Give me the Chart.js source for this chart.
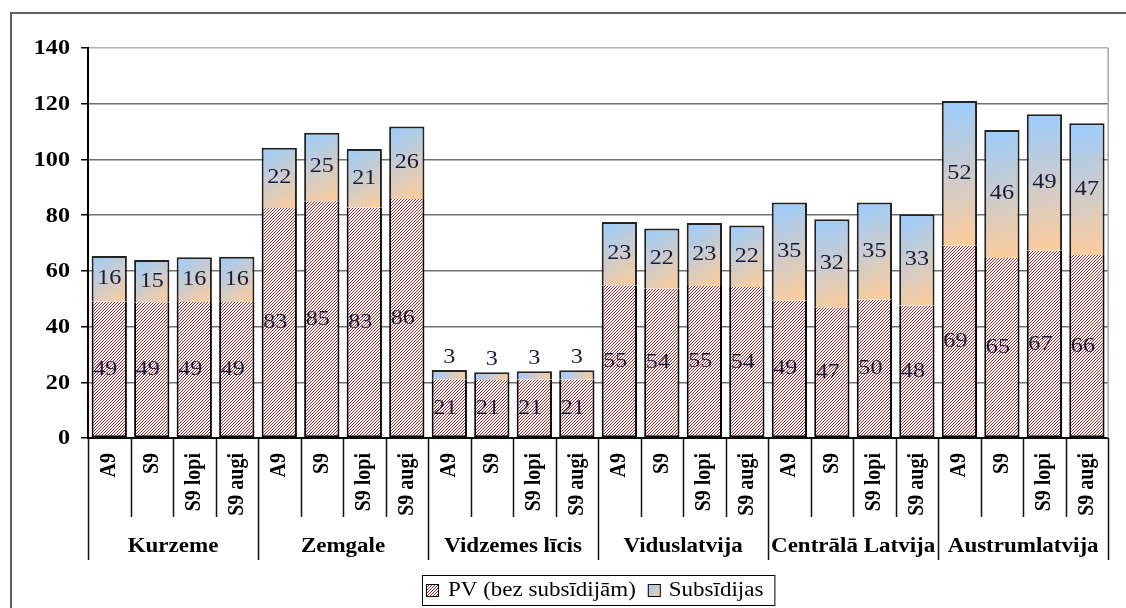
<!DOCTYPE html>
<html>
<head>
<meta charset="utf-8">
<script src="https://cdn.jsdelivr.net/npm/chart.js@4/dist/chart.umd.min.js"></script>
<style>
html, body { margin: 0; padding: 0; background: #fff; }
</style>
</head>
<body>
<canvas id="chart" width="1126" height="608"></canvas>
<script>
// ─── Data ────────────────────────────────────────
const regions   = ["Kurzeme", "Zemgale", "Vidzemes līcis", "Viduslatvija", "Centrālā Latvija", "Austrumlatvija"];
const scenarios = ["A9", "S9", "S9 lopi", "S9 augi"];
const seriesNames = ["PV (bez subsīdijām)", "Subsīdijas"];

// PV without subsidies, per region x scenario
const pvValues = [
    48.9, 48.7, 48.8, 48.8,
    82.6, 85.0, 82.7, 85.8,
    21.1, 20.8, 21.0, 21.0,
    54.8, 53.6, 54.6, 54.2,
    49.3, 46.9, 49.6, 47.6,
    69.0, 64.6, 67.2, 65.7
];
// subsidies stacked on top
const subsidyValues = [
    16.4, 15.2, 16.1, 16.3,
    21.6, 24.6, 21.0, 26.0,
    3.3, 2.8, 3.0, 3.3,
    22.7, 21.6, 22.6, 22.1,
    35.2, 31.6, 34.9, 32.7,
    52.0, 46.0, 49.0, 47.3
];

const yMax  = 140;
const yStep = 20;

const categories = regions.flatMap(() => scenarios);

// ─── Styles ──────────────────────────────────────
const SERIF = "'Liberation Serif', 'Times New Roman', serif";
const BAR_PCT = 0.83;
const STRETCH = 1.15;   // the source picture is a bit wide, so is its text

const canvas = document.getElementById("chart");
const ctx = canvas.getContext("2d");

function makeHatch() {
    const t = document.createElement("canvas");
    t.width = 3; t.height = 3;
    const g = t.getContext("2d");
    g.fillStyle = "#fff";
    g.fillRect(0, 0, 3, 3);
    g.strokeStyle = "#9c1414";
    g.lineWidth = 0.9;
    g.beginPath();
    g.moveTo(0, 3); g.lineTo(3, 0);
    g.moveTo(-1, 1); g.lineTo(1, -1);
    g.moveTo(2, 4); g.lineTo(4, 2);
    g.stroke();
    return ctx.createPattern(t, "repeat");
}
const hatch = makeHatch();

function blueToPeach(c, x0, y0, x1, y1) {
    const g = c.createLinearGradient(x0, y0, x1, y1);
    g.addColorStop(0, "#99ccff");
    g.addColorStop(1, "#ffcc99");
    return g;
}

function subsidyFill(context) {
    const chart = context.chart;
    const { chartArea, scales } = chart;
    if (!chartArea || context.type !== "data") return "#cccccc";
    const i = context.dataIndex;
    const cx = scales.x.getPixelForValue(i);
    const half = (scales.x.width / categories.length) * BAR_PCT / 2;
    const top = scales.y.getPixelForValue(pvValues[i] + subsidyValues[i]);
    const bottom = scales.y.getPixelForValue(pvValues[i]);
    return blueToPeach(chart.ctx, cx - half, top, cx + half, bottom);
}

function wideText(c, text, x, y, align) {
    c.save();
    c.translate(x, y);
    c.scale(STRETCH, 1);
    c.textAlign = align || "center";
    c.fillText(text, 0, 0);
    c.restore();
}

// ─── Plugins ─────────────────────────────────────
const framePlugin = {
    id: "frame",
    beforeDraw(chart) {
        const c = chart.ctx;
        c.save();
        c.fillStyle = "#fff";
        c.fillRect(0, 0, chart.width, chart.height);
        c.strokeStyle = "#606060";
        c.lineWidth = 2;
        c.strokeRect(11, 13, chart.width + 10, chart.height + 10);
        c.restore();
    },
    beforeDatasetsDraw(chart) {
        const c = chart.ctx, a = chart.chartArea;
        c.save();
        c.strokeStyle = "#a8a8a8";
        c.lineWidth = 1.5;
        c.beginPath();
        c.moveTo(a.right, a.top);
        c.lineTo(a.right, a.bottom);
        c.stroke();
        c.restore();
    }
};

const valueLabels = {
    id: "valueLabels",
    afterDatasetsDraw(chart) {
        const c = chart.ctx;
        c.save();
        c.font = `21px ${SERIF}`;
        c.fillStyle = "#1a1a3a";
        c.textBaseline = "middle";
        chart.data.datasets.forEach((ds, di) => {
            chart.getDatasetMeta(di).data.forEach((bar, i) => {
                const txt = String(Math.round(ds.data[i]));
                const h = bar.base - bar.y;
                if (di === 0) {
                    wideText(c, txt, bar.x - 4, bar.y + h / 2);
                } else if (h < 22) {
                    wideText(c, txt, bar.x, bar.y - 13);
                } else {
                    wideText(c, txt, bar.x, bar.y + h / 2);
                }
            });
        });
        c.restore();
    }
};

const axisText = {
    id: "axisText",
    afterDraw(chart) {
        const c = chart.ctx;
        const xs = chart.scales.x, ys = chart.scales.y;
        const n = categories.length;
        const step = xs.width / n;
        const y0 = chart.chartArea.bottom;
        c.save();

        // y tick labels
        c.fillStyle = "#000";
        c.textBaseline = "middle";
        c.font = `bold 21px ${SERIF}`;
        ys.ticks.forEach(t => wideText(c, String(t.value), 70, ys.getPixelForValue(t.value) + 1, "right"));

        // x tick labels, turned to read upwards
        c.font = `bold 20px ${SERIF}`;
        categories.forEach((lab, i) => {
            c.save();
            c.translate(xs.getPixelForValue(i), y0 + 15);
            c.scale(STRETCH, 1);
            c.rotate(-Math.PI / 2);
            c.textAlign = "right";
            c.fillText(lab, 0, 0);
            c.restore();
        });

        // separators between categories and regions
        c.strokeStyle = "#111";
        c.lineWidth = 1.5;
        for (let i = 0; i <= n; i++) {
            const x = Math.round(xs.left + i * step) + 0.5;
            const len = i % scenarios.length === 0 ? 122 : 79;
            c.beginPath();
            c.moveTo(x, y0);
            c.lineTo(x, y0 + len);
            c.stroke();
        }

        // region names
        c.font = `bold 20px ${SERIF}`;
        regions.forEach((r, g) => {
            const x = xs.left + (g * scenarios.length + scenarios.length / 2) * step;
            wideText(c, r, x, y0 + 109);
        });

        // legend
        c.font = `20px ${SERIF}`;
        const w1 = c.measureText(seriesNames[0]).width * STRETCH;
        const w2 = c.measureText(seriesNames[1]).width * STRETCH;
        const total = 4 + 13 + 9 + w1 + 12 + 13 + 8 + w2 + 11;
        const cx = (chart.chartArea.left + chart.chartArea.right) / 2;
        const left = Math.round(cx - total / 2);
        const top = 575, bh = 30, mid = top + bh / 2;
        c.strokeStyle = "#000";
        c.lineWidth = 1;
        c.strokeRect(left + 0.5, top + 0.5, total, bh);
        let x = left + 4;
        c.fillStyle = hatch;
        c.fillRect(x, mid - 6, 13, 13);
        c.strokeRect(x + 0.5, mid - 5.5, 12, 12);
        x += 13 + 9;
        c.fillStyle = "#000";
        wideText(c, seriesNames[0], x, mid + 1, "left");
        x += w1 + 12;
        c.fillStyle = blueToPeach(c, x, mid - 6, x + 13, mid + 7);
        c.fillRect(x, mid - 6, 13, 13);
        c.strokeRect(x + 0.5, mid - 5.5, 12, 12);
        x += 13 + 8;
        c.fillStyle = "#000";
        wideText(c, seriesNames[1], x, mid + 1, "left");
        c.restore();
    }
};

// ─── Chart ───────────────────────────────────────
new Chart(ctx, {
    type: "bar",
    data: {
        labels: categories,
        datasets: [
            {
                label: seriesNames[0],
                data: pvValues,
                backgroundColor: hatch,
                borderColor: "#000",
                borderWidth: 2,
                borderSkipped: "top",
                barPercentage: BAR_PCT,
                categoryPercentage: 1
            },
            {
                label: seriesNames[1],
                data: subsidyValues,
                backgroundColor: subsidyFill,
                borderColor: "#222",
                borderWidth: 2,
                borderSkipped: "bottom",
                barPercentage: BAR_PCT,
                categoryPercentage: 1
            }
        ]
    },
    options: {
        responsive: false,
        animation: false,
        layout: { padding: { left: 0, right: 4, top: 48, bottom: 0 } },
        plugins: { legend: { display: false }, tooltip: { enabled: false } },
        scales: {
            x: {
                stacked: true,
                grid: { display: false, drawTicks: false },
                border: { display: true, color: "#000", width: 2 },
                ticks: {
                    autoSkip: false, maxRotation: 90, minRotation: 90, padding: 15,
                    color: "rgba(0,0,0,0)", font: { family: SERIF, size: 20, weight: "bold" }
                },
                afterFit: s => { s.height = 170; }
            },
            y: {
                stacked: true,
                min: 0, max: yMax,
                ticks: {
                    stepSize: yStep, padding: 11, color: "rgba(0,0,0,0)",
                    font: { family: SERIF, size: 20, weight: "bold" }
                },
                grid: {
                    color: c => c.tick && c.tick.value === yMax ? "#b0b0b0" : "#707070",
                    lineWidth: 1.5, tickColor: "#000", tickLength: 7
                },
                border: { color: "#000", width: 2 },
                afterFit: s => { s.width = 88; }
            }
        }
    },
    plugins: [framePlugin, valueLabels, axisText]
});
</script>
</body>
</html>
